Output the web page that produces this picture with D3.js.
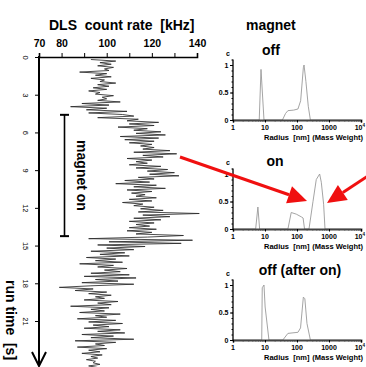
<!DOCTYPE html>
<html>
<head>
<meta charset="utf-8">
<script src="https://cdn.jsdelivr.net/npm/d3@7"></script>
<style>
  body { margin: 0; background: #fff; }
  svg { display: block; font-family: "Liberation Sans", Arial, sans-serif; }
</style>
</head>
<body>
<svg id="chart" width="366" height="367"></svg>
<script>
// main trace: DLS count rate [kHz], sampled every 0.125 s
const rateTicks = [70, 80, 100, 120, 140];
const timeTicks = [0, 3, 6, 9, 12, 15, 18, 21];
const sampleStep = 0.125;
const offStart = 0.2, onStart = 4.7, afterStart = 14.45;
const magnetOnSpan = [4.6, 14.25];

const rateOff = [93,104,97,102,96,103,99,101,88,100,95,102,93,99,97,104,96,101,94,100,
  92,97,95,103,98,100,96,106,89,101,84,100,91,109,92,107];
const rateOn = [112,96,114,109,123,110,121,105,118,112,
  124,113,126,106,123,108,121,110,120,115,
  121,116,128,112,131,116,125,109,120,113,
  118,110,124,113,127,118,130,119,132,114,
  121,108,119,104,122,112,126,109,120,111,
  117,113,122,110,120,107,116,112,121,115,
  125,114,141,116,128,112,124,110,121,113,
  119,110,122,109,120,113,134,118];
const rateAfter = [92,138,101,133,96,117,100,112,93,108,
  97,110,91,104,95,107,88,103,96,109,
  99,106,93,110,90,113,95,105,89,112,
  93,79,94,86,100,92,102,95,99,90,
  105,96,102,84,101,93,99,88,106,95,
  100,87,104,92,107,94,101,90,106,96,
  108,89,103,93,112,86,104,95,99,87,
  100,92,97,89,98,93,96,91,95,94,
  97,92,96,93];

// size distributions (mass weighted), radius in nm
const radiusTicks = [1, 10, 100, 1000, 10000];
const cTicks = [0, 0.5, 1];
const offRadius = [1, 6.6, 7.5, 9.3, 35, 44, 52, 79, 107, 130, 158, 166, 190, 225, 262, 10000];
const offC      = [0, 0,   0.92, 0,  0,  0.12, 0.17, 0.18, 0.2, 0.35, 0.95, 1.0, 0.7, 0.25, 0, 0];
const onRadius  = [1, 5.1, 6.0, 6.8, 52, 66, 95, 137, 155, 172, 237, 316, 400, 510, 575, 680, 750, 10000];
const onC       = [0, 0,   0.4, 0,   0,  0.3, 0.27, 0.22, 0.2, 0, 0,  0.5, 0.9, 1.0, 0.85, 0.45, 0, 0];
const afterRadius = [1, 7.9, 8.2, 9.3, 10.1, 13.3, 36, 52, 107, 129, 158, 176, 205, 262, 10000];
const afterC      = [0, 0,   0.95, 1.0, 0.6, 0,    0,  0.12, 0.14, 0.22, 0.78, 0.75, 0.3, 0, 0];

const svg = d3.select('#chart');
const bold = 'bold';

// ---------- main chart ----------
const x = d3.scaleLinear().domain([70, 140]).range([39, 197]);
const y = d3.scaleLinear().domain([0, 21]).range([57, 321]);

const trace = [];
rateOff.forEach((v, i) => trace.push([offStart + i * sampleStep, v]));
rateOn.forEach((v, i) => trace.push([onStart + i * sampleStep, v]));
rateAfter.forEach((v, i) => trace.push([afterStart + i * sampleStep, v]));

svg.append('path')
  .datum(trace)
  .attr('fill', 'none')
  .attr('stroke', '#2a2a2a')
  .attr('stroke-width', 0.85)
  .attr('d', d3.line().x(d => x(d[1])).y(d => y(d[0])));

const xAxis = svg.append('g')
  .attr('transform', `translate(0,${y(0)})`)
  .call(d3.axisTop(x).tickValues(d3.range(70, 141, 10)).tickSize(4).tickPadding(6)
    .tickFormat(d => rateTicks.includes(d) ? d : ''));
xAxis.select('.domain').attr('stroke-width', 1.6);
xAxis.selectAll('text').attr('font-size', 10.5).attr('font-weight', bold).attr('fill', '#000');

const yAxis = svg.append('g')
  .attr('transform', `translate(${x(70)},0)`)
  .call(d3.axisLeft(y).tickValues(timeTicks).tickSize(4));
yAxis.select('.domain').remove();
yAxis.selectAll('text')
  .attr('x', null).attr('dy', null)
  .attr('text-anchor', 'middle')
  .attr('font-size', 7.5)
  .attr('fill', '#000')
  .attr('transform', 'translate(-16.5,0) rotate(90)');

// time axis line with arrow
svg.append('line').attr('x1', x(70)).attr('x2', x(70)).attr('y1', y(0) - 1).attr('y2', 366)
  .attr('stroke', '#000').attr('stroke-width', 2);
svg.append('path')
  .attr('d', `M${x(70) - 7},${352} L${x(70)},${366} L${x(70) + 7},${352}`)
  .attr('fill', 'none').attr('stroke', '#000').attr('stroke-width', 2);

// magnet on bar
const barX = 64.5;
svg.append('line').attr('x1', barX).attr('x2', barX)
  .attr('y1', y(magnetOnSpan[0])).attr('y2', y(magnetOnSpan[1]))
  .attr('stroke', '#000').attr('stroke-width', 1.6);
magnetOnSpan.forEach(t => svg.append('line')
  .attr('x1', barX - 4.5).attr('x2', barX + 4.5).attr('y1', y(t)).attr('y2', y(t))
  .attr('stroke', '#000').attr('stroke-width', 2));

svg.append('text').attr('transform', `translate(76.5,${(y(magnetOnSpan[0]) + y(magnetOnSpan[1])) / 2}) rotate(90)`)
  .attr('text-anchor', 'middle').attr('font-size', 14).attr('font-weight', bold).text('magnet on');
svg.append('text').attr('transform', 'translate(6,320) rotate(90)')
  .attr('text-anchor', 'middle').attr('font-size', 14).attr('font-weight', bold)
  .attr('xml:space', 'preserve').text('run time  [s]');

svg.append('text').attr('x', 49).attr('y', 30).attr('font-size', 14).attr('font-weight', bold)
  .attr('xml:space', 'preserve').text('DLS  count rate  [kHz]');
svg.append('text').attr('x', 246).attr('y', 30).attr('font-size', 14).attr('font-weight', bold)
  .text('magnet');

// ---------- insets ----------
const xr = d3.scaleLog().domain([1, 10000]).range([233, 361]);
const panels = [
  { title: 'off', r: offRadius, c: offC, base: 120, tx: 271, ty: 55 },
  { title: 'on', r: onRadius, c: onC, base: 229, tx: 275, ty: 166 },
  { title: 'off (after on)', r: afterRadius, c: afterC, base: 340, tx: 300, ty: 275 }
];

panels.forEach(p => {
  const yc = d3.scaleLinear().domain([0, 1]).range([p.base, p.base - 55]);
  const g = svg.append('g');

  g.append('path')
    .datum(p.r.map((r, i) => [r, p.c[i]]))
    .attr('fill', 'none').attr('stroke', '#9a9a9a').attr('stroke-width', 0.9)
    .attr('d', d3.line().x(d => xr(d[0])).y(d => yc(d[1])));

  // x axis with minor log ticks
  const minor = [];
  for (let dec = 1; dec < 10000; dec *= 10) for (let k = 2; k < 10; k++) minor.push(dec * k);
  g.append('g').attr('transform', `translate(0,${p.base})`)
    .call(d3.axisBottom(xr).tickValues(minor).tickSize(1.5).tickFormat(''))
    .call(s => s.select('.domain').remove())
    .selectAll('line').attr('stroke', '#555');
  g.append('g').attr('transform', `translate(0,${p.base})`)
    .call(d3.axisBottom(xr).tickValues(radiusTicks).tickSize(2.5).tickFormat(''))
    .call(s => s.select('.domain').attr('stroke', '#444').attr('stroke-width', 1.8));

  radiusTicks.forEach(v => {
    const t = g.append('text').attr('x', xr(v)).attr('y', p.base + 10)
      .attr('text-anchor', v === 10000 ? 'end' : 'middle')
      .attr('font-size', 7).attr('font-weight', bold);
    if (v === 10000) {
      t.attr('x', 365).text('10');
      t.append('tspan').attr('dy', -3).attr('font-size', 4.5).text('4');
    } else t.text(v);
  });
  g.append('text').attr('x', 264).attr('y', p.base + 20).attr('font-size', 7.5).attr('font-weight', bold)
    .attr('xml:space', 'preserve').text('Radius  [nm]');
  g.append('text').attr('x', 363).attr('y', p.base + 20).attr('font-size', 7.5).attr('font-weight', bold)
    .attr('text-anchor', 'end').text('(Mass Weight)');

  // y axis with minor ticks
  g.append('g').attr('transform', `translate(${xr(1)},0)`)
    .call(d3.axisLeft(yc).tickValues(d3.range(0, 1.11, 0.1)).tickSize(1.5).tickFormat(''))
    .call(s => s.select('.domain').remove());
  g.append('g').attr('transform', `translate(${xr(1)},0)`)
    .call(d3.axisLeft(yc).tickValues(cTicks).tickSize(3).tickPadding(1.5).tickFormat(d => d))
    .call(s => s.select('.domain').remove())
    .selectAll('text').attr('font-size', 7).attr('font-weight', bold).attr('fill', '#000');
  g.append('line').attr('x1', xr(1)).attr('x2', xr(1)).attr('y1', p.base).attr('y2', yc(1.1))
    .attr('stroke', '#000').attr('stroke-width', 1.3);
  g.append('text').attr('x', 228).attr('y', yc(1.1) - 4).attr('font-size', 7).attr('font-weight', bold)
    .attr('text-anchor', 'middle').text('c');

  g.append('text').attr('x', p.tx).attr('y', p.ty).attr('text-anchor', 'middle')
    .attr('font-size', 14).attr('font-weight', bold).text(p.title);
});

// ---------- red arrows ----------
const arrows = [
  { from: [180, 157], to: [307, 201] },
  { from: [368, 176], to: [327, 203] }
];
arrows.forEach(a => {
  const dx = a.to[0] - a.from[0], dy = a.to[1] - a.from[1];
  const len = Math.hypot(dx, dy), ux = dx / len, uy = dy / len;
  const hl = 19, hw = 9;
  const bx = a.to[0] - ux * hl, by = a.to[1] - uy * hl;
  svg.append('line').attr('x1', a.from[0]).attr('y1', a.from[1]).attr('x2', bx).attr('y2', by)
    .attr('stroke', '#f01010').attr('stroke-width', 3);
  svg.append('path')
    .attr('d', `M${a.to[0]},${a.to[1]} L${bx - uy * hw},${by + ux * hw} L${bx + uy * hw},${by - ux * hw} Z`)
    .attr('fill', '#f01010');
});
</script>
</body>
</html>
